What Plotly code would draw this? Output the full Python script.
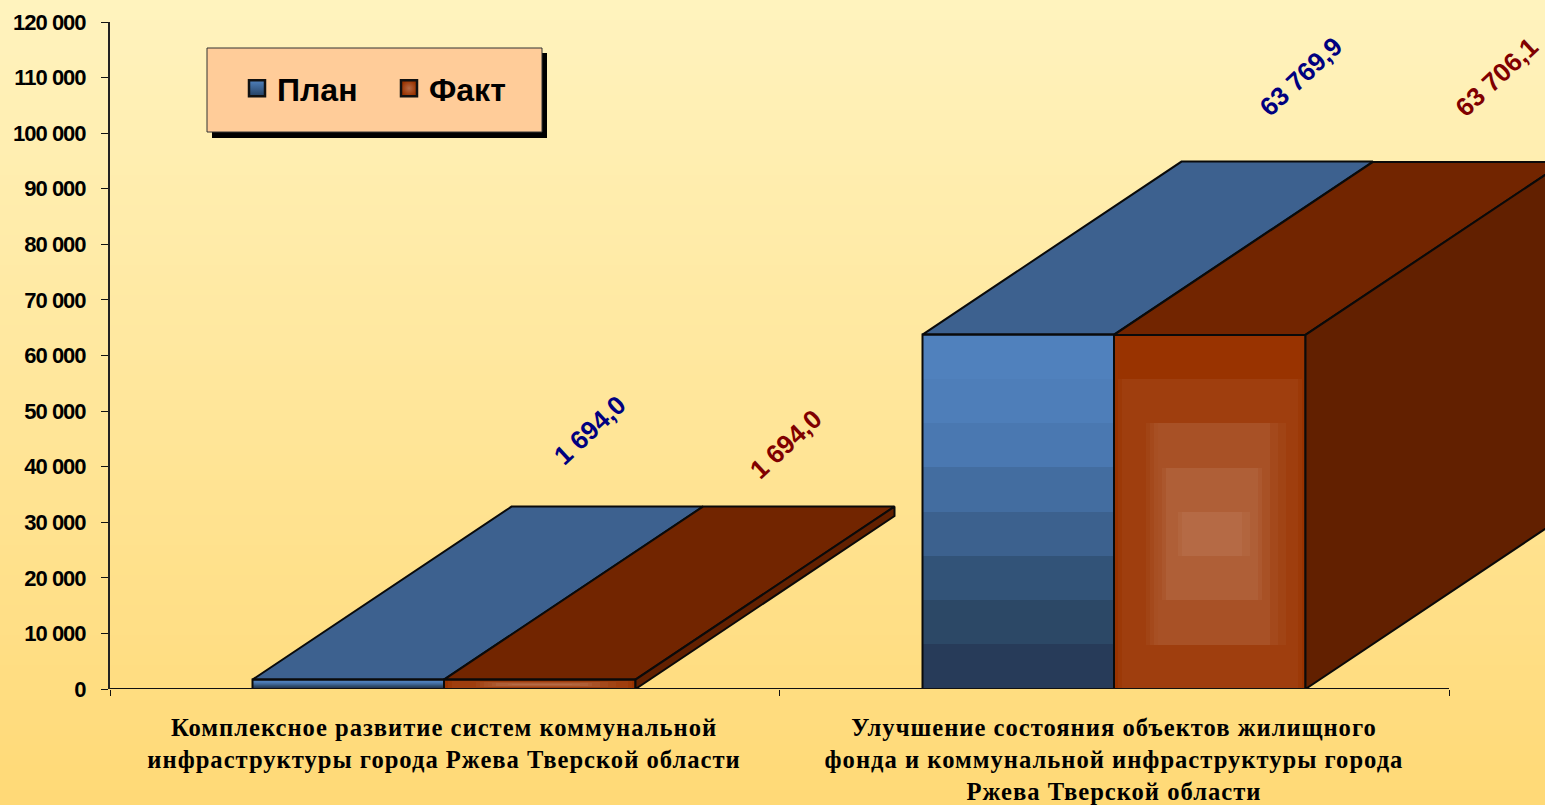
import numpy as np
import plotly.graph_objects as go

# ---------- data ----------
categories = [
    "Комплексное развитие систем коммунальной<br>инфраструктуры города Ржева Тверской области",
    "Улучшение состояния объектов жилищного<br>фонда и коммунальной инфраструктуры города<br>Ржева Тверской области",
]
series_names = ["План", "Факт"]
plan_values = [1694.0, 63769.9]
fact_values = [1694.0, 63706.1]
plan_labels = ["1 694,0", "63 769,9"]
fact_labels = ["1 694,0", "63 706,1"]
y_ticks = list(range(0, 120001, 10000))
y_tick_labels = ["0", "10 000", "20 000", "30 000", "40 000", "50 000", "60 000",
                 "70 000", "80 000", "90 000", "100 000", "110 000", "120 000"]

# ---------- geometry / style ----------
W, H = 1545, 805
PL, PR, PT, PB = 110, 1545, 22, 689      # plot area in page pixels
PX_PER_CAT = 670.0
CENTER0 = 444.0
XR = [(PL - CENTER0) / PX_PER_CAT, (PR - CENTER0) / PX_PER_CAT]
YR = [0, 120000]
BAR_W = 191.5 / PX_PER_CAT
DEPTH_X = 259 / PX_PER_CAT
DEPTH_Y = 173 * 120000 / (PB - PT)

BLUE_BANDS = ["#273B59", "#2C4866", "#325378", "#3C618E", "#436DA0", "#4A78B1", "#4E7EB9", "#5081BD"]
RED_ROWS = [0.2, 0.55, 0.8, 1.0, 0.8, 0.55, 0.2, 0.0]   # bottom to top
RED_COLS = [0, 0.1, 0.2, 0.2, 0.2, 0.2, 0.2, 0.2, 0.3, 0.4, 0.5, 0.55, 0.65, 0.8, 0.8, 0.8, 0.9,
            1, 1, 1, 1, 1, 1, 1, 1, 1, 1, 1, 1, 1, 1, 1,
            0.9, 0.9, 0.8, 0.8, 0.68, 0.55, 0.55, 0.4, 0.4, 0.3, 0.3, 0.2, 0.2, 0.2, 0.1, 0]
BLUE_TOP, RED_TOP, RED_SIDE = "#3D618F", "#722500", "#622000"
EDGE = "#0A0A0A"

fig = go.Figure()


def poly(xs, ys, fill):
    fig.add_trace(go.Scatter(x=xs, y=ys, mode="lines", fill="toself", fillcolor=fill,
                             line=dict(color=EDGE, width=2), hoverinfo="skip", showlegend=False))


def front(x0, x1, v, z, scale):
    fig.add_trace(go.Heatmap(
        x=np.linspace(x0, x1, z.shape[1] + 1), y=np.linspace(0, v, z.shape[0] + 1), z=z,
        colorscale=scale, zmin=0, zmax=1, showscale=False, hoverinfo="skip"))


def box(x0, x1, v, side_fill, top_fill):
    poly([x0, x1, x1 + DEPTH_X, x0 + DEPTH_X, x0], [v, v, v + DEPTH_Y, v + DEPTH_Y, v], top_fill)
    fig.add_trace(go.Scatter(x=[x0, x1, x1, x0, x0], y=[0, 0, v, v, 0], mode="lines",
                             line=dict(color=EDGE, width=2), hoverinfo="skip", showlegend=False))
    if side_fill:
        poly([x1, x1 + DEPTH_X, x1 + DEPTH_X, x1, x1], [0, DEPTH_Y, v + DEPTH_Y, v, 0], side_fill)


blue_z = np.arange(8).reshape(-1, 1) / 7
blue_scale = [[i / 7, c] for i, c in enumerate(BLUE_BANDS)]
red_z = np.minimum.outer(np.array(RED_ROWS), np.array(RED_COLS))
red_scale = [[0, "#993300"], [1, "#B56A45"]]

for i in range(len(categories)):
    xm = float(i)
    front(xm - BAR_W, xm, plan_values[i], blue_z, blue_scale)
    front(xm, xm + BAR_W, fact_values[i], red_z, red_scale)
    box(xm - BAR_W, xm, plan_values[i], None, BLUE_TOP)
    box(xm, xm + BAR_W, fact_values[i], RED_SIDE, RED_TOP)

# legend entries
fig.add_trace(go.Scatter(x=[None], y=[None], mode="markers", name=series_names[0],
                         marker=dict(symbol="square", size=18, color="#4F81BD",
                                     gradient=dict(type="vertical", color="#254061"),
                                     line=dict(color="#111", width=2.5))))
fig.add_trace(go.Scatter(x=[None], y=[None], mode="markers", name=series_names[1],
                         marker=dict(symbol="square", size=18, color="#993300",
                                     gradient=dict(type="radial", color="#B56A45"),
                                     line=dict(color="#111", width=2.5))))


# ---------- page furniture ----------
def fx(px):
    return (px - PL) / (PR - PL)


def fy(py):
    return (PB - py) / (PB - PT)


shapes = []
top_rgb = np.array([255, 243, 190])
bot_rgb = np.array([255, 217, 118])
for py in range(0, H, 5):
    t = py / (H - 1)
    c = top_rgb + (bot_rgb - top_rgb) * t
    shapes.append(dict(type="rect", xref="paper", yref="paper", layer="below",
                       x0=fx(0), x1=fx(W), y0=fy(py), y1=fy(H), line_width=0,
                       fillcolor=f"rgb({c[0]:.0f},{c[1]:.0f},{c[2]:.0f})"))
shapes.append(dict(type="rect", xref="paper", yref="paper", layer="below",
                   x0=fx(212), x1=fx(547), y0=fy(53), y1=fy(138), fillcolor="#000", line_width=0))
shapes.append(dict(type="rect", xref="paper", yref="paper", layer="below",
                   x0=fx(207), x1=fx(542), y0=fy(48), y1=fy(132), fillcolor="#FFCC99",
                   line=dict(color="#333", width=1)))
shapes.append(dict(type="line", xref="x", yref="y", layer="above", x0=XR[0], x1=1.5, y0=0, y1=0,
                   line=dict(color="#111", width=2)))

# data labels
annotations = []
plan_shift = [(590 - 348.5, 250), (1300 - 1018, 258)]
fact_shift = [(786 - 540, 236), (1497 - 1210, 258)]
for i in range(len(categories)):
    annotations.append(dict(x=i - BAR_W / 2, y=plan_values[i], text=plan_labels[i], showarrow=False,
                            xshift=plan_shift[i][0], yshift=plan_shift[i][1], textangle=-43,
                            font=dict(family="Liberation Sans", size=26, color="#000080", weight="bold")))
    annotations.append(dict(x=i + BAR_W / 2, y=fact_values[i], text=fact_labels[i], showarrow=False,
                            xshift=fact_shift[i][0], yshift=fact_shift[i][1], textangle=-43,
                            font=dict(family="Liberation Sans", size=26, color="#800000", weight="bold")))

fig.update_layout(
    width=W, height=H, autosize=False,
    margin=dict(l=PL, r=W - PR, t=PT, b=H - PB, pad=0),
    paper_bgcolor="#FFE9A0", plot_bgcolor="rgba(0,0,0,0)",
    shapes=shapes, annotations=annotations,
    showlegend=True,
    legend=dict(orientation="h", x=fx(237), y=fy(61), xanchor="left", yanchor="top",
                bgcolor="rgba(0,0,0,0)", borderwidth=0, itemsizing="trace", entrywidth=107,
                font=dict(family="Liberation Sans", size=32, color="#000", weight="bold"),
                itemclick=False, itemdoubleclick=False),
    xaxis=dict(range=XR, automargin=False, tickmode="array", tickvals=[0, 1], ticktext=categories, ticks="",
               showgrid=False, zeroline=False, showline=False, tickangle=0, ticklabelstandoff=21,
               tickfont=dict(family="Liberation Serif", size=24.6, color="#000", weight="bold"),
               minor=dict(tickmode="array", tickvals=[XR[0], 0.5, 1.5], ticks="outside", ticklen=6,
                          tickwidth=1, tickcolor="#111", showgrid=False)),
    yaxis=dict(range=YR, automargin=False, tickmode="array", tickvals=y_ticks, ticktext=y_tick_labels,
               ticks="outside", ticklen=7, tickwidth=1, tickcolor="#111", showgrid=False, zeroline=False,
               showline=True, linecolor="#222", linewidth=2, ticklabelstandoff=11,
               tickfont=dict(family="Liberation Sans", size=22, color="#000", weight="bold")),
)

fig.write_html("out.html", config={"displayModeBar": False},
               post_script="document.body.style.margin='0';document.body.style.overflow='hidden';"
                           "var s=document.createElement('style');"
                           "s.textContent='.xtick text{letter-spacing:1px}.ytick text{letter-spacing:-1px}';"
                           "document.head.appendChild(s);")
